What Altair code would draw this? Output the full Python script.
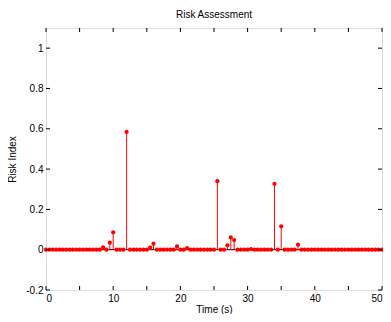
import altair as alt
import pandas as pd

# Sampling grid (0.5 s step, 0..50 s)
time_s = [i * 0.5 for i in range(101)]

# Risk index
risk = [
    0, 0, 0, 0, 0, 0, 0, 0, 0, 0,
    0, 0, 0, 0, 0, 0, 0, 0.011, 0, 0.035,
    0.086, 0, 0, 0, 0.584, 0, 0, 0, 0, 0,
    0, 0.010, 0.030, 0, 0, 0, 0, 0, 0, 0.016,
    0, 0, 0.008, 0, 0, 0, 0, 0, 0, 0,
    0, 0.340, 0, 0, 0.022, 0.061, 0.048, 0, 0, 0,
    0, 0.003, 0, 0, 0, 0, 0, 0, 0.327, 0,
    0.116, 0, 0, 0, 0, 0.025, 0, 0, 0, 0,
    0, 0, 0, 0, 0, 0, 0, 0, 0, 0,
    0, 0, 0, 0, 0, 0, 0, 0, 0, 0,
    0,
]

x_ticks = [0, 5, 10, 15, 20, 25, 30, 35, 40, 45, 50]
y_ticks = [-0.2, 0, 0.2, 0.4, 0.6, 0.8, 1]

df = pd.DataFrame({"t": time_s, "r": risk, "zero": [0] * len(time_s)})
xt = pd.DataFrame({"t": x_ticks})
yt = pd.DataFrame({"v": y_ticks})

FONT = "Liberation Sans"
W, H = 336, 262

xscale = alt.Scale(domain=[0, 50], nice=False, zero=False)
yscale = alt.Scale(domain=[-0.2, 1.1], nice=False, zero=False)

x_axis = alt.Axis(values=x_ticks, domain=False, ticks=False, grid=False,
                  labelPadding=3, title="Time (s)", titlePadding=1,
                  labelFontSize=10, titleFontSize=10, titleFontWeight="normal",
                  labelColor="#000", titleColor="#000", labelFont=FONT, titleFont=FONT)
y_axis = alt.Axis(values=y_ticks, domain=False, ticks=False, grid=False,
                  labelPadding=3, title="Risk Index", titlePadding=8,
                  labelExpr="'' + datum.value",
                  labelFontSize=10, titleFontSize=10, titleFontWeight="normal",
                  labelColor="#000", titleColor="#000", labelFont=FONT, titleFont=FONT)

baseline = alt.Chart(df).mark_rule(color="black", strokeWidth=1).encode(
    x=alt.X("min(t):Q", scale=xscale, axis=x_axis),
    x2="max(t):Q",
    y=alt.Y("min(zero):Q", scale=yscale, axis=y_axis),
)

stems = alt.Chart(df).mark_rule(color="#ff0000", strokeWidth=1).encode(
    x=alt.X("t:Q", scale=xscale),
    y=alt.Y("zero:Q", scale=yscale),
    y2="r:Q",
)

points = alt.Chart(df).mark_point(filled=True, color="#ff0000", size=18, opacity=1).encode(
    x=alt.X("t:Q", scale=xscale),
    y=alt.Y("r:Q", scale=yscale),
)

xb = alt.Chart(xt).mark_rule(color="black").encode(
    x=alt.X("t:Q", scale=xscale), y=alt.value(H), y2=alt.value(H - 4))
xtop = alt.Chart(xt).mark_rule(color="black").encode(
    x=alt.X("t:Q", scale=xscale), y=alt.value(0), y2=alt.value(4))
yl = alt.Chart(yt).mark_rule(color="black").encode(
    y=alt.Y("v:Q", scale=yscale), x=alt.value(0), x2=alt.value(4))
yr = alt.Chart(yt).mark_rule(color="black").encode(
    y=alt.Y("v:Q", scale=yscale), x=alt.value(W), x2=alt.value(W - 4))

chart = alt.layer(baseline, stems, points, xb, xtop, yl, yr).properties(
    width=W,
    height=H,
    title=alt.TitleParams("Risk Assessment", fontSize=10, fontWeight="normal",
                          font=FONT, color="#000", offset=8, anchor="middle"),
    autosize=alt.AutoSizeParams(type="none"),
    padding={"left": 38, "top": 20, "right": 1, "bottom": 24},
).configure_view(stroke="black", strokeWidth=1).configure(background="white")

chart.save("out.html", embed_options={"renderer": "svg", "actions": False})
